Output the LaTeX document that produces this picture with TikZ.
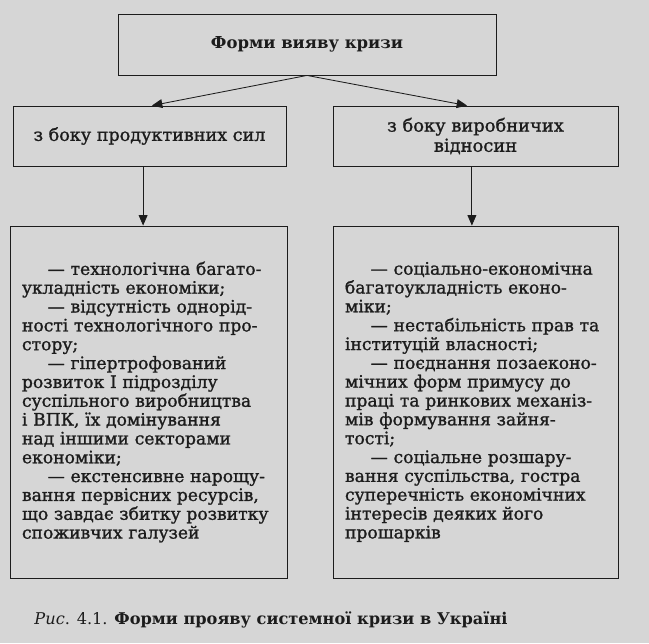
\documentclass[tikz,border=0pt]{standalone}
\usepackage{fontspec}
\setmainfont{DejaVu Serif}
\newfontfamily\boxfont{DejaVu Serif}[FakeBold=1.2]
\usetikzlibrary{arrows.meta,calc,positioning}
\definecolor{paper}{RGB}{214,214,214}
\definecolor{ink}{RGB}{28,28,28}
\newcommand{\itemind}{\hspace*{1.5em}}
\tikzset{
  box/.style={draw=ink, line width=0.6pt, fill=paper, text=ink, inner sep=0pt, align=center},
  listbox/.style={draw=ink, line width=0.6pt, fill=paper, text=ink, inner xsep=0.3cm, align=left,
    font=\boxfont\fontsize{12.2}{13.4}\selectfont},
  arr/.style={draw=ink, line width=0.6pt, -{Triangle[length=2.6mm,width=2.2mm]}}
}
\begin{document}
\begin{tikzpicture}

                % Page and frame.
                \fill[paper] (0,0) rectangle (16.225,-16.075);
                \useasboundingbox (0,0) rectangle (16.225,-16.075);

                % Upper boxes.
                \node[box, minimum width=9.45cm, minimum height=1.525cm,
                    font=\bfseries\fontsize{11.7}{14}\selectfont] (forms) at (7.675,-1.1125) {Форми вияву кризи};
                \node[box, minimum width=6.825cm, minimum height=1.5cm,
                    font=\boxfont\fontsize{12.5}{14}\selectfont] (prod) at (3.7375,-3.4) {з боку продуктивних сил};
                \node[box, minimum width=7.125cm, minimum height=1.5cm,
                    font=\boxfont\fontsize{12.7}{14.3}\selectfont] (vidn) at (11.8875,-3.4) {з боку виробничих\\відносин};

                % Lists.
                \node[listbox, text width=6.325cm, minimum height=8.8cm] (listL) at (3.7125,-10.05) {%
                    \itemind— технологічна багато-\\
                    укладність економіки;\\
                    \itemind— відсутність однорід-\\
                    ності технологічного про-\\
                    стору;\\
                    \itemind— гіпертрофований\\
                    розвиток І підрозділу\\
                    суспільного виробництва\\
                    і ВПК, їх домінування\\
                    над іншими секторами\\
                    економіки;\\
                    \itemind— екстенсивне нарощу-\\
                    вання первісних ресурсів,\\
                    що завдає збитку розвитку\\
                    споживчих галузей};
                \node[listbox, text width=6.525cm, minimum height=8.8cm] (listR) at (11.8875,-10.05) {%
                    \itemind— соціально-економічна\\
                    багатоукладність еконо-\\
                    міки;\\
                    \itemind— нестабільність прав та\\
                    інституцій власності;\\
                    \itemind— поєднання позаеконо-\\
                    мічних форм примусу до\\
                    праці та ринкових механіз-\\
                    мів формування зайня-\\
                    тості;\\
                    \itemind— соціальне розшару-\\
                    вання суспільства, гостра\\
                    суперечність економічних\\
                    інтересів деяких його\\
                    прошарків};

                % Arrows.
                \draw[arr] (forms.south) -- ([xshift=0.06cm]prod.north);
                \draw[arr] (forms.south) -- ([xshift=-0.21cm]vidn.north);
                \draw[arr] ([xshift=-0.16cm]prod.south) -- ([xshift=-0.16cm]prod.south |- listL.north);
                \draw[arr] ([xshift=-0.09cm]vidn.south) -- ([xshift=-0.09cm]vidn.south |- listR.north);

                % Caption.
                \node[text=ink, font=\fontsize{11.5}{14}\selectfont] (caption) at (6.775,-15.5)
                    {\textit{Рис}. 4.1. \textbf{Форми прояву системної кризи в Україні}};
\end{tikzpicture}
\end{document}
